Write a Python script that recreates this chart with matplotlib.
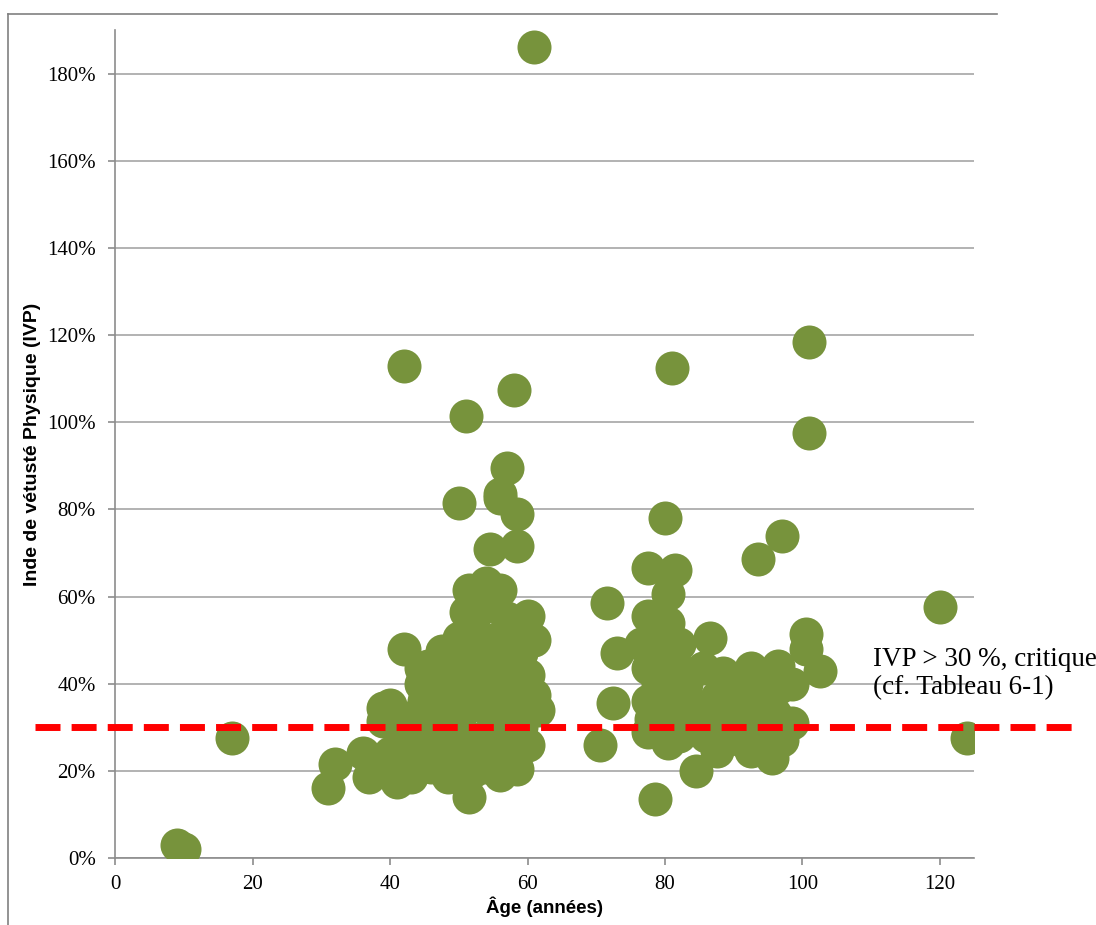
import matplotlib
matplotlib.use("Agg")
import matplotlib.pyplot as plt
from matplotlib.ticker import FuncFormatter
from matplotlib.lines import Line2D

# age (years) and physical obsolescence index (%)
age = [9, 10, 17, 31, 32, 36, 37, 41, 39, 39, 40, 42, 42, 44.5, 45.5, 47.5, 49.5, 52, 50,
       51, 58, 61, 50, 57, 56, 56, 58.5, 54.5, 58.5, 51.5, 54, 56, 60, 61, 51, 53, 57,
       57, 58.5, 61, 61.5, 51.5, 56, 58.5, 57, 48.5, 54, 46, 43, 45, 44, 47, 48, 50, 52,
       53, 55, 56, 58, 59, 60, 55, 53, 49, 47, 42, 40, 38, 43, 46, 50, 52, 54, 56, 58,
       49, 51, 54, 55, 52, 57, 59, 48, 45, 41, 44, 55, 60, 53, 44.5, 45,
       71.5, 73, 72.5, 70.5, 78.5, 80, 77.5, 81.5, 80.5, 77.5, 80.5, 86.5, 76.5, 77.5,
       81.5, 85.5, 88.5, 92.5, 96.5, 93.5, 97, 81, 101, 101, 120, 124, 100.5, 100.5,
       102.5, 98.5, 96.5, 77.5, 83.5, 87.5, 92.5, 77.5, 80.5, 87.5, 84.5, 92.5, 95.5,
       98.5, 91, 95, 79, 80, 80, 81, 82, 84, 86, 89, 90, 93, 94, 96, 97, 79, 83, 85, 88,
       91, 78, 82, 79]
ivp = [3, 2, 27.5, 16, 21.5, 24, 18.5, 17.5, 34.5, 31.5, 35, 113, 48, 40, 44, 47.5, 47, 47, 50.5,
       101.5, 107.5, 186, 81.5, 89.5, 83.5, 82.5, 79, 71, 71.5, 61.5, 63, 61.5, 55.5, 50, 56.5, 57, 55,
       43, 42.5, 37.5, 34, 14, 19, 20.5, 23, 18.5, 21, 21, 18.5, 25, 33, 38.5, 28, 31, 35,
       25, 30, 40, 37, 30, 26, 45, 42, 41, 33, 27, 24, 22, 29, 30, 22, 20, 28, 33, 27,
       26, 38, 36, 50, 52, 51, 47, 36, 36, 30, 22, 24, 42, 47, 43.5, 39,
       58.5, 47, 35.5, 26, 13.5, 78, 66.5, 66, 60.5, 55.5, 54, 50.5, 49, 43.5,
       44.5, 43.5, 42.5, 43.5, 44, 68.5, 74, 112.5, 118.5, 97.5, 57.5, 27.5, 51.5, 48,
       43, 40, 39, 36, 36, 37, 34.5, 29, 26.5, 24.5, 20, 24.5, 23,
       31, 32, 29.5, 40, 34, 31, 38, 28, 31, 28, 30, 38, 29, 38, 33, 27, 47, 40, 34, 33,
       27, 32, 49, 52]

seuil = 30
xticks = [0, 20, 40, 60, 80, 100, 120]
yticks = [0, 20, 40, 60, 80, 100, 120, 140, 160, 180]

fig = plt.figure(figsize=(10.96, 9.25), dpi=100)
ax = fig.add_axes([0.105, 0.0724, 0.784, 0.8952])

ax.scatter(age, ivp, s=600, color="#77933C", linewidths=0, zorder=3)
ax.plot([-11.6, 139.6], [seuil, seuil], color="red", lw=5, dashes=(3.6, 1.6),
        clip_on=False, zorder=4)

ax.set_xlim(0, 125)
ax.set_ylim(0, 190)
ax.set_xticks(xticks)
ax.set_yticks(yticks)
ax.yaxis.set_major_formatter(FuncFormatter(lambda v, p: "%d%%" % v))
ax.grid(axis="y", color="#A6A6A6", lw=1.2, zorder=0)
ax.grid(axis="x", visible=False)
for s in ["top", "right"]:
    ax.spines[s].set_visible(False)
for s in ["left", "bottom"]:
    ax.spines[s].set_color("#8C8C8C")
    ax.spines[s].set_linewidth(1.2)
ax.tick_params(direction="out", length=5, color="#8C8C8C", width=1.2)
ax.tick_params(axis="y", pad=9)
ax.tick_params(axis="x", pad=7)
for lab in ax.get_xticklabels() + ax.get_yticklabels():
    lab.set_family("Liberation Serif")
    lab.set_fontsize(15)
    lab.set_color("black")

lab_font = ["Liberation Sans", "DejaVu Sans"]
ax.set_xlabel("Âge (années)", family=lab_font, fontweight="bold", fontsize=13.5, labelpad=2)
ax.set_ylabel("Inde de vétusté Physique (IVP)", family=lab_font, fontweight="bold",
              fontsize=14, labelpad=4)

ax.text(110.3, 42.4, "IVP > 30 %, critique\n(cf. Tableau 6-1)", family="Liberation Serif",
        fontsize=19.5, va="center", ha="left", linespacing=1.15, clip_on=False)

fig.add_artist(Line2D([8 / 1096, 8 / 1096], [0, 1 - 14 / 925], color="#808080", lw=1.2))
fig.add_artist(Line2D([8 / 1096, 997 / 1096], [1 - 14 / 925, 1 - 14 / 925], color="#808080", lw=1.2))

fig.savefig("out.png", dpi=100)
